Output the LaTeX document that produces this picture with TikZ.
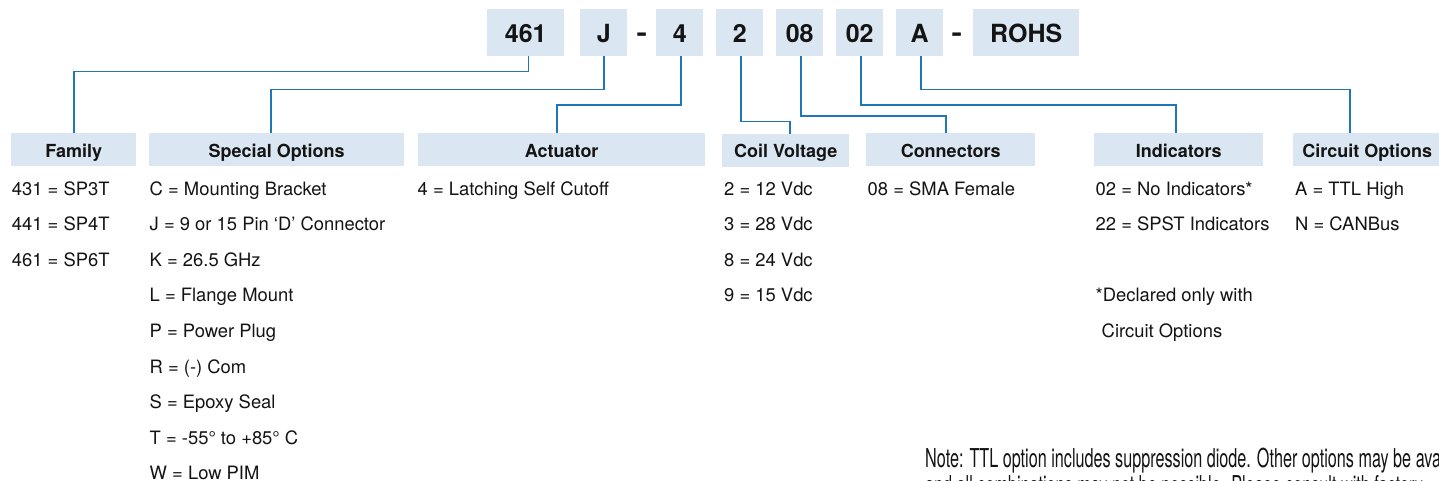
\documentclass[tikz,border=0pt]{standalone}
\usepackage{fontspec}
\usepackage{graphicx}
\setmainfont{TeX Gyre Heros}
\definecolor{lineblue}{RGB}{33,118,182}
\definecolor{boxfill}{RGB}{218,230,241}
\definecolor{txt}{RGB}{20,20,20}
\newlength\notew
\begin{document}
\settowidth\notew{\fontsize{26}{26}\selectfont Note: TTL option includes suppression diode. Other options may be ava}%
\pgfmathsetmacro\nsx{516/\notew}%
\begin{tikzpicture}[x=1pt,y=-1pt,
  pn/.style={fill=boxfill, inner sep=0pt, minimum height=47pt, text height=24pt, text depth=4pt,
    font=\fontsize{25}{25}\selectfont\bfseries, text=txt, anchor=north west},
  sep/.style={inner sep=0pt, anchor=base, font=\fontsize{25}{25}\selectfont\bfseries, text=txt},
  hd/.style={fill=boxfill, inner sep=0pt, minimum height=33pt, text height=16pt, text depth=1pt,
    font=\fontsize{18}{18}\selectfont\bfseries, text=txt, anchor=north west},
  it/.style={inner sep=0pt, anchor=base west, font=\fontsize{18.4}{18.4}\selectfont, text=txt},
  conn/.style={draw=lineblue, line width=1.6pt},
  note/.style={inner sep=0pt, anchor=base west, font=\fontsize{26}{26}\selectfont, text=txt}]
\clip (0,0) rectangle (1439,480);
\fill[white] (0,0) rectangle (1439,480);
% part number boxes
\node[pn, minimum width=77pt] (pn461) at (487,8.5) {461};
\node[pn, minimum width=47pt] (pnJ) at (580,8.5) {J};
\node[sep] (d1) at (641.7,41) {\scalebox{1.25}[1]{-}};
\node[pn, minimum width=47pt] (pn4) at (656,8.5) {4};
\node[pn, minimum width=47pt] (pn2) at (716,8.5) {2};
\node[pn, minimum width=47pt] (pn08) at (776,8.5) {08};
\node[pn, minimum width=47pt] (pn02) at (836,8.5) {02};
\node[pn, minimum width=47pt] (pnA) at (896,8.5) {A};
\node[sep] (d2) at (956.7,41) {\scalebox{1.25}[1]{-}};
\node[pn, minimum width=106pt] (pnR) at (973,8.5) {ROHS};
% headers
\node[hd, minimum width=125pt] (hFam) at (11,133) {Family};
\node[hd, minimum width=255pt] (hSpec) at (149,133) {Special Options};
\node[hd, minimum width=287pt] (hAct) at (418,133) {Actuator};
\node[hd, minimum width=127pt] (hCoil) at (722,133.5) {Coil Voltage};
\node[hd, minimum width=169pt] (hConn) at (866,133) {Connectors};
\node[hd, minimum width=169pt] (hInd) at (1094,133) {Indicators};
\node[hd, minimum width=148pt] (hCirc) at (1293,133) {Circuit Options};
% connectors
\draw[conn] ([xshift=2.8pt]pn461.south) -- ++(0,15.5) -| (hFam.north);
\draw[conn] (pnJ.south) -- ++(0,33.5) -| ([xshift=-5.8pt]hSpec.north);
\draw[conn] ([xshift=1.3pt]pn4.south) -- ++(0,49) -| ([xshift=-4.5pt]hAct.north);
\draw[conn] ([xshift=1.3pt]pn2.south) -- ++(0,65.5) -| ([xshift=4.2pt]hCoil.north);
\draw[conn] ([xshift=1.2pt]pn08.south) -- ++(0,60) -| ([xshift=-4.5pt]hConn.north);
\draw[conn] ([xshift=1.3pt]pn02.south) -- ++(0,49) -| ([xshift=-2.5pt]hInd.north);
\draw[conn] ([xshift=1.3pt]pnA.south) -- ++(0,33.5) -| ([xshift=-17pt]hCirc.north);
% items
\def\rA{195}\def\rB{230.6}\def\rC{266.2}\def\rD{301.8}\def\rE{337.4}
\def\rF{373}\def\rG{408.6}\def\rH{444.2}\def\rI{479.8}
\node[it] (f1) at (11.7,\rA) {431 = SP3T};
\node[it] (f2) at (11.7,\rB) {441 = SP4T};
\node[it] (f3) at (11.7,\rC) {461 = SP6T};
\node[it] (s1) at (149.5,\rA) {C = Mounting Bracket};
\node[it] (s2) at (149.5,\rB) {J = 9 or 15 Pin ‘D’ Connector};
\node[it] (s3) at (149.5,\rC) {K = 26.5 GHz};
\node[it] (s4) at (149.5,\rD) {L = Flange Mount};
\node[it] (s5) at (149.5,\rE) {P = Power Plug};
\node[it] (s6) at (149.5,\rF) {R = (-) Com};
\node[it] (s7) at (149.5,\rG) {S = Epoxy Seal};
\node[it] (s8) at (149.5,\rH) {T = -55° to +85° C};
\node[it] (s9) at (149.5,\rI) {W = Low PIM};
\node[it] (a1) at (417.5,\rA) {4 = Latching Self Cutoff};
\node[it] (c1) at (724,\rA) {2 = 12 Vdc};
\node[it] (c2) at (724,\rB) {3 = 28 Vdc};
\node[it] (c3) at (724,\rC) {8 = 24 Vdc};
\node[it] (c4) at (724,\rD) {9 = 15 Vdc};
\node[it] (n1) at (867.5,\rA) {08 = SMA Female};
\node[it] (i1) at (1095.5,\rA) {02 = No Indicators*};
\node[it] (i2) at (1095.5,\rB) {22 = SPST Indicators};
\node[it] (i3) at (1095.5,\rD) {*Declared only with};
\node[it] (i4) at (1101.5,\rE) {Circuit Options};
\node[it] (o1) at (1295,\rA) {A = TTL High};
\node[it] (o2) at (1295,\rB) {N = CANBus};
% note
\node[note] (note1) at (925,467.5) {\scalebox{\nsx}[1]{Note: TTL option includes suppression diode. Other options may be available}};
\node[note] (note2) at (925,494) {\scalebox{\nsx}[1]{and all combinations may not be possible. Please consult with factory.}};
\end{tikzpicture}
\end{document}
